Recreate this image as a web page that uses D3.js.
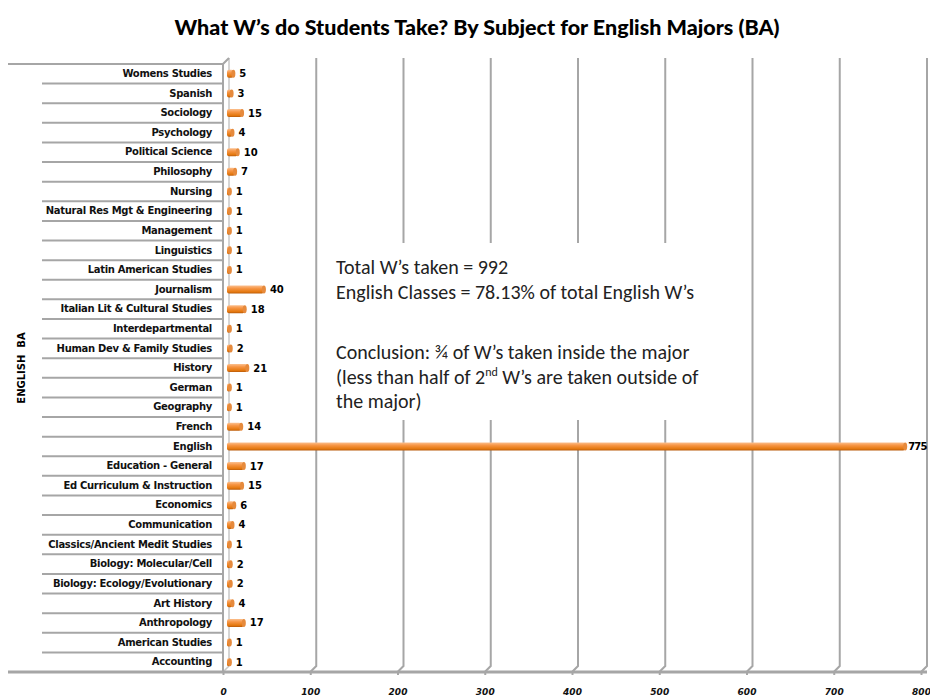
<!DOCTYPE html>
<html><head><meta charset="utf-8">
<script src="https://cdn.jsdelivr.net/npm/d3@7"></script>
<style>
html,body{margin:0;padding:0;background:#fff;}
svg{display:block;}
</style></head>
<body>
<svg id="chart" width="930" height="698"></svg>
<script>
const categories = ["Womens Studies","Spanish","Sociology","Psychology","Political Science","Philosophy","Nursing","Natural Res Mgt & Engineering","Management","Linguistics","Latin American Studies","Journalism","Italian Lit & Cultural Studies","Interdepartmental","Human Dev & Family Studies","History","German","Geography","French","English","Education - General","Ed Curriculum & Instruction","Economics","Communication","Classics/Ancient Medit Studies","Biology: Molecular/Cell","Biology: Ecology/Evolutionary","Art History","Anthropology","American Studies","Accounting"];
const values = [5,3,15,4,10,7,1,1,1,1,1,40,18,1,2,21,1,1,14,775,17,15,6,4,1,2,2,4,17,1,1];
const tickValues = [0,100,200,300,400,500,600,700,800];
const groupLabel = "ENGLISH  BA";
const title = "What W\u2019s do Students Take? By Subject for English Majors (BA)";
const noteLines = [
  ["Total W\u2019s taken = 992"],
  ["English Classes = 78.13% of total English W\u2019s"],
  ["Conclusion: \u00BE of W\u2019s taken inside the major"],
  ["(less than half of 2", "nd", " W\u2019s are taken outside of"],
  ["the major)"]
];

(function(){
const svg = d3.select("#chart");
const depth = 6;
const plotTop = 64, plotBottom = 672;
const x = d3.scaleLinear().domain([0,800]).range([229, 927]);
const xFront = d3.scaleLinear().domain([0,800]).range([229-depth, 927-depth]);
const y = d3.scaleBand().domain(categories).range([plotTop, plotBottom]);
const grey = "#a6a6a6";
const labelFont = "'DejaVu Sans', sans-serif";

const defs = svg.append("defs");
const grad = defs.append("linearGradient").attr("id","barGrad").attr("x1",0).attr("y1",0).attr("x2",0).attr("y2",1);
grad.append("stop").attr("offset","0%").attr("stop-color","#fbc08f");
grad.append("stop").attr("offset","35%").attr("stop-color","#f79646");
grad.append("stop").attr("offset","80%").attr("stop-color","#e4780f");
grad.append("stop").attr("offset","100%").attr("stop-color","#b85a0a");

svg.append("text").attr("x",477).attr("y",35).attr("text-anchor","middle")
  .attr("font-family","Lato, 'Open Sans', sans-serif").attr("font-weight",900).attr("font-size",21.5)
  .attr("fill","#000")
  .text(title);

const grid = svg.append("g");
tickValues.filter(v => v > 0).forEach(v => {
  grid.append("path")
    .attr("d", `M${x(v)},${plotTop-depth} L${x(v)},${plotBottom-depth} L${xFront(v)},${plotBottom}`)
    .attr("fill","none").attr("stroke",grey).attr("stroke-width",2);
});
svg.append("path").attr("d", `M${x(0)},${plotTop-depth} L${x(0)},${plotBottom-depth} L${xFront(0)},${plotBottom}`)
  .attr("fill","none").attr("stroke","#c8c8c8").attr("stroke-width",1.5);
svg.append("path").attr("d", `M${xFront(0)},${plotBottom} L${xFront(0)},${plotTop} L${x(0)},${plotTop-depth}`)
  .attr("fill","none").attr("stroke",grey).attr("stroke-width",2);

const seps = d3.range(1, categories.length).map(i => y(categories[i]));
svg.append("g").selectAll("line").data(seps).join("line")
  .attr("x1",42).attr("x2",xFront(0)).attr("y1",d=>d).attr("y2",d=>d)
  .attr("stroke",grey).attr("stroke-width",2);
svg.append("line").attr("x1",8).attr("x2",xFront(0)).attr("y1",plotTop).attr("y2",plotTop)
  .attr("stroke",grey).attr("stroke-width",2);

svg.append("rect").attr("x",322).attr("y",243).attr("width",388).attr("height",177).attr("fill","#fff");
const note = svg.append("text").attr("font-family","Carlito, Lato, sans-serif").attr("font-size",20).attr("fill","#222");
const noteY = [274, 298.5, 359, 383.5, 408];
noteLines.forEach((parts, i) => {
  if (parts.length === 1) { note.append("tspan").attr("x",336).attr("y",noteY[i]).text(parts[0]); }
  else {
    note.append("tspan").attr("x",336).attr("y",noteY[i]).text(parts[0]);
    note.append("tspan").attr("font-size",12).attr("dy",-8).text(parts[1]);
    note.append("tspan").attr("dy",8).text(parts[2]);
  }
});

const bh = 8;
const bars = svg.append("g");
categories.forEach((c, i) => {
  const cy = y(c) + y.bandwidth()/2;
  const x0 = x(0) - 2, x1 = x(values[i]);
  bars.append("rect").attr("x",x0).attr("y",cy-bh/2).attr("width",Math.max(1,x1-x0)).attr("height",bh)
    .attr("rx",2).attr("fill","url(#barGrad)");
  bars.append("ellipse").attr("cx",x1).attr("cy",cy).attr("rx",2).attr("ry",bh/2)
    .attr("fill","#e68a3c");
});

svg.append("g").selectAll("text").data(categories).join("text")
  .attr("x",(c,i)=> values[i] > 700 ? x(values[i]) + 3 : x(values[i]) + 6)
  .attr("y",c=>y(c)+y.bandwidth()/2)
  .attr("dy","0.35em")
  .attr("font-family",labelFont).attr("font-weight","bold").attr("font-size",10)
  .attr("letter-spacing",(c,i)=> values[i] > 700 ? "-0.8" : "0")
  .text((c,i)=>values[i]);

const yAxis = svg.append("g").attr("transform",`translate(${xFront(0)},0)`)
  .call(d3.axisLeft(y).tickSize(0).tickPadding(11));
yAxis.select(".domain").remove();
yAxis.selectAll("text").attr("font-family",labelFont).attr("font-weight","bold").attr("font-size",10)
  .attr("letter-spacing","-0.3").attr("fill","#111");

const xAxis = svg.append("g").attr("transform",`translate(0,${plotBottom})`)
  .call(d3.axisBottom(xFront).tickValues(tickValues).tickSize(3).tickPadding(14));
xAxis.select(".domain").remove();
xAxis.selectAll(".tick line").attr("stroke",grey).attr("stroke-width",2);
xAxis.selectAll("text").attr("font-family",labelFont).attr("font-weight","bold").attr("font-size",9)
  .attr("font-style","italic").attr("fill","#111");
svg.append("line").attr("x1",8).attr("x2",927).attr("y1",plotBottom).attr("y2",plotBottom)
  .attr("stroke",grey).attr("stroke-width",3);

svg.append("text").attr("transform",`translate(25,368) rotate(-90)`).attr("text-anchor","middle")
  .attr("font-family",labelFont).attr("font-weight","bold").attr("font-size",10)
  .style("white-space","pre").text(groupLabel);
})();
</script>
</body></html>
